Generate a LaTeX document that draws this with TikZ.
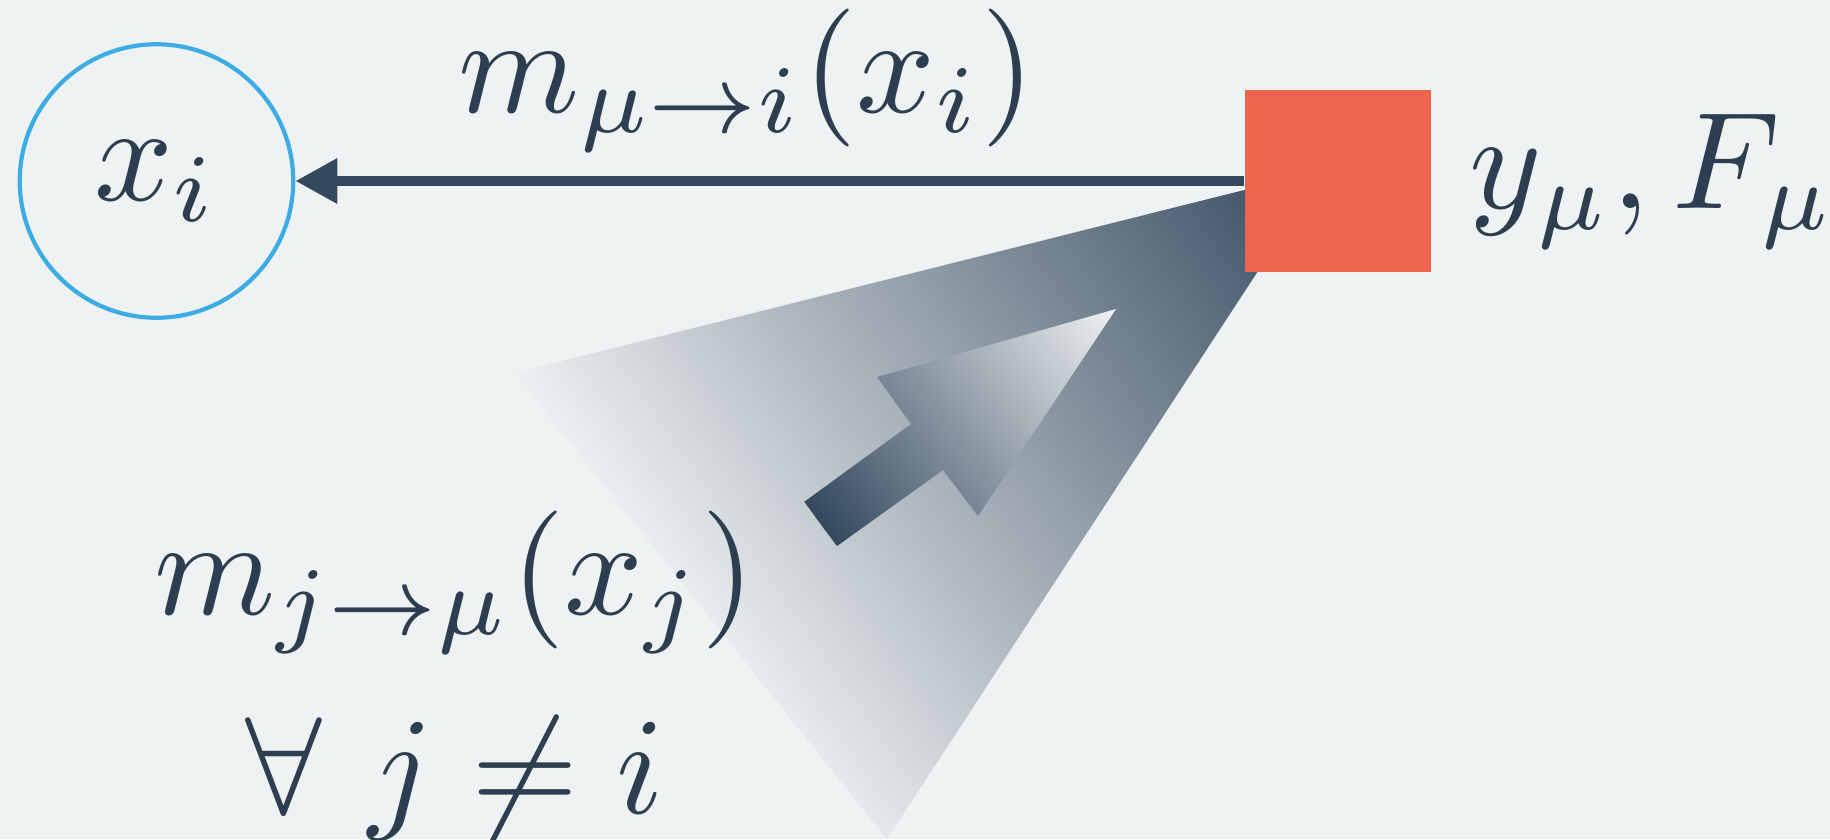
\documentclass[tikz,border=0pt]{standalone}
\usepackage{amsmath}
\usetikzlibrary{arrows.meta, positioning, calc}

\definecolor{bgpaper}{RGB}{239,242,243}
\definecolor{ink}{RGB}{44,62,80}
\definecolor{slate}{RGB}{52,73,94}
\definecolor{skyblue}{RGB}{62,172,228}
\definecolor{coral}{RGB}{238,100,78}

\newcommand{\bigmath}[1]{\scalebox{3.926}{\normalsize$#1$}}

\tikzset{
  lbl/.style={text=ink, inner sep=2pt},
  varnode/.style={circle, draw=skyblue, line width=1.2pt, minimum size=2.735cm, inner sep=0pt, text=ink},
  facnode/.style={rectangle, fill=coral, minimum width=1.86cm, minimum height=1.82cm, inner sep=0pt},
  msg/.style={draw=slate, line width=2.8pt, -{Triangle[length=4.2mm, width=4.3mm]}},
}

\begin{document}
\begin{tikzpicture}
% paper
\fill[bgpaper] (0,0) rectangle (18.3,-8.39);
\useasboundingbox (0,0) rectangle (18.3,-8.39);
% cone of incoming messages
\coordinate (apex) at (13.24,-1.70);
\begin{scope}
  \clip (apex) -- (5.14,-3.73) -- (8.87,-8.39) -- cycle;
  \shade[left color=bgpaper, right color=slate, transform canvas={rotate around={35:(apex)}}]
    ($(apex)+(-7.9,-6)$) rectangle ($(apex)+(0,6)$);
\end{scope}
% big arrow into the factor
\coordinate (tail) at (8.205,-5.24);
\begin{scope}
  \clip (8.04,-5.02) -- (9.11,-4.24) -- (8.77,-3.77) -- (11.16,-3.09)
    -- (9.78,-5.16) -- (9.43,-4.70) -- (8.37,-5.46) -- cycle;
  \shade[left color=slate, right color=bgpaper, transform canvas={rotate around={36:(tail)}}]
    ($(tail)+(0,-2)$) rectangle ($(tail)+(3.66,2)$);
\end{scope}
% variable and factor
\node[varnode] (xi) at (1.565,-1.81) {\bigmath{x_i}};
\node[facnode] (fmu) at (13.38,-1.81) {};
\draw[msg] (fmu.west) -- (xi.east);
% labels
\node[lbl] (msgout) at (7.47,-0.80) {\bigmath{m_{\mu\to i}(x_i)}};
\node[lbl, right=0.3cm of fmu] (obs) {\bigmath{y_\mu, F_\mu}};
\node[lbl] (msgin) at (4.55,-5.82) {\bigmath{m_{j\to\mu}(x_j)}};
\node[lbl] (others) at (4.55,-7.79) {\bigmath{\forall\ j\neq i}};
\end{tikzpicture}
\end{document}
